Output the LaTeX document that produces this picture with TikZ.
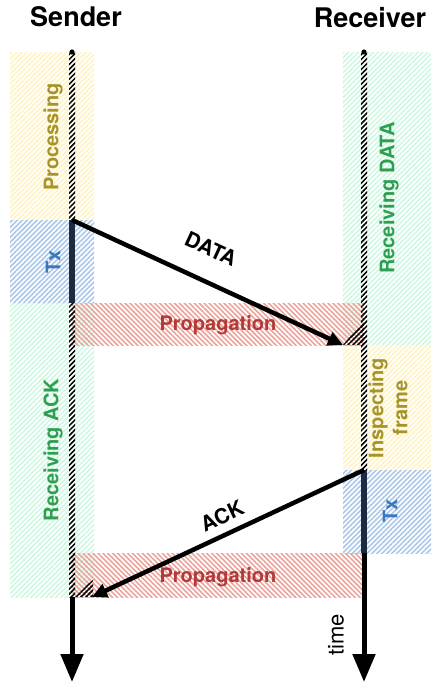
\documentclass[tikz,border=0pt]{standalone}
\usepackage{fontspec}
\setmainfont{TeX Gyre Heros}
\usetikzlibrary{arrows.meta,patterns.meta}
\definecolor{sq_yellow}{RGB}{255, 243, 195}
\definecolor{sq_green}{RGB}{206, 248, 226}
\definecolor{sq_blue}{RGB}{170, 199, 233}
\definecolor{sq_red}{RGB}{235, 163, 156}
\definecolor{sq_olive}{RGB}{166, 148, 40}
\definecolor{sq_dgreen}{RGB}{46, 158, 80}
\definecolor{sq_dblue}{RGB}{58, 120, 192}
\definecolor{sq_dred}{RGB}{178, 58, 56}
\definecolor{sq_navy}{RGB}{28, 43, 64}
\tikzstyle{yb}=[pattern={Lines[angle=45,distance=3.5pt,line width=1.6pt]},pattern color=sq_yellow]
\tikzstyle{gb}=[pattern={Lines[angle=45,distance=3.5pt,line width=1.6pt]},pattern color=sq_green]
\tikzstyle{bb}=[pattern={Lines[angle=45,distance=3.5pt,line width=1.6pt]},pattern color=sq_blue]
\tikzstyle{rb}=[pattern={Lines[angle=-45,distance=3.5pt,line width=1.6pt]},pattern color=sq_red]
\tikzstyle{tl}=[pattern={Lines[angle=45,distance=3.5pt,line width=1.5pt]},pattern color=black]
\tikzstyle{hd}=[font=\bfseries\fontsize{27}{30}\selectfont]
\tikzstyle{lbl}=[font=\bfseries\fontsize{20}{24}\selectfont,rotate=90,align=center,inner sep=0pt]
\tikzstyle{mlbl}=[font=\bfseries\fontsize{20}{24}\selectfont,inner sep=0pt]
\tikzstyle{txl}=[draw=sq_navy,line width=6pt]
\tikzstyle{msg}=[draw=black,line width=4.5pt,-{Triangle[length=15pt,width=14pt]}]
\tikzstyle{tarr}=[draw=black,line width=5pt,-{Triangle[length=28pt,width=22pt]}]
\tikzstyle{none}=[inner sep=0pt]

\begin{document}
\begin{tikzpicture}[x=1pt,y=-1pt]
            \useasboundingbox (0,0) rectangle (432,683);
            % columns
            \path [style=yb] (10,52) rectangle (94,220);
            \path [style=bb] (10,220) rectangle (94,303);
            \path [style=gb] (10,303) rectangle (94,597);
            \path [style=gb] (343,52) rectangle (431,345);
            \path [style=yb] (343,345) rectangle (431,470);
            \path [style=bb] (343,470) rectangle (431,553);
            \path [style=rb] (72,303) rectangle (364,345);
            \path [style=rb] (72,553) rectangle (364,597);
            % headers and labels
            \node [style=hd] (0) at (76,17) {Sender};
            \node [style=hd] (1) at (370,18) {Receiver};
            \node [style=lbl, text=sq_olive] (2) at (53,137) {Processing};
            \node [style=lbl, text=sq_dblue] (3) at (53,262) {Tx};
            \node [style=lbl, text=sq_dgreen] (4) at (53,450) {Receiving ACK};
            \node [style=lbl, text=sq_dgreen] (5) at (389,198) {Receiving DATA};
            \node [style=lbl, text=sq_olive] (6) at (388,408) {Inspecting\\frame};
            \node [style=lbl, text=sq_dblue] (7) at (390,511) {Tx};
            \node [style=mlbl, text=sq_dred] (8) at (218,325) {Propagation};
            \node [style=mlbl, text=sq_dred] (9) at (218,577) {Propagation};
            \node [style=mlbl, font=\bfseries\fontsize{21}{24}\selectfont, rotate=-24.7] (10) at (211,249) {DATA};
            \node [style=mlbl, font=\bfseries\fontsize{21}{24}\selectfont, rotate=24.9] (11) at (222,516) {ACK};
            \node [font=\fontsize{22}{24}\selectfont, rotate=90, inner sep=0pt] (12) at (336,635) {time};
            % time lines
            \path [style=tl] (69,52) rectangle (75,220);
            \path [style=tl] (69,303) rectangle (75,597);
            \path [style=tl] (361,52) rectangle (367,470);
            \path [style=tl] (343,345) -- (364,320) -- (364,345) -- cycle;
            \path [style=tl] (72,597) -- (93,580) -- (93,597) -- cycle;
            \node [style=none] (13) at (72,52) {};
            \node [style=none] (14) at (364,52) {};
            \fill (13.center) circle (2.6);
            \fill (14.center) circle (2.6);
            \node [style=none] (20) at (72,220) {};
            \node [style=none] (21) at (72,303) {};
            \node [style=none] (22) at (72,597) {};
            \node [style=none] (23) at (72,682) {};
            \node [style=none] (24) at (364,470) {};
            \node [style=none] (25) at (364,553) {};
            \node [style=none] (26) at (364,682) {};
            \node [style=none] (27) at (343,345) {};
            \node [style=none] (28) at (92,597) {};
            \draw [style=txl] (20.center) to (21.center);
            \draw [style=txl] (24.center) to (25.center);
            \draw [style=msg] (20.center) to (27.center);
            \draw [style=msg] (24.center) to (28.center);
            \draw [style=tarr] (22.center) to (23.center);
            \draw [style=tarr] (25.center) to (26.center);
    \end{tikzpicture}
\end{document}
